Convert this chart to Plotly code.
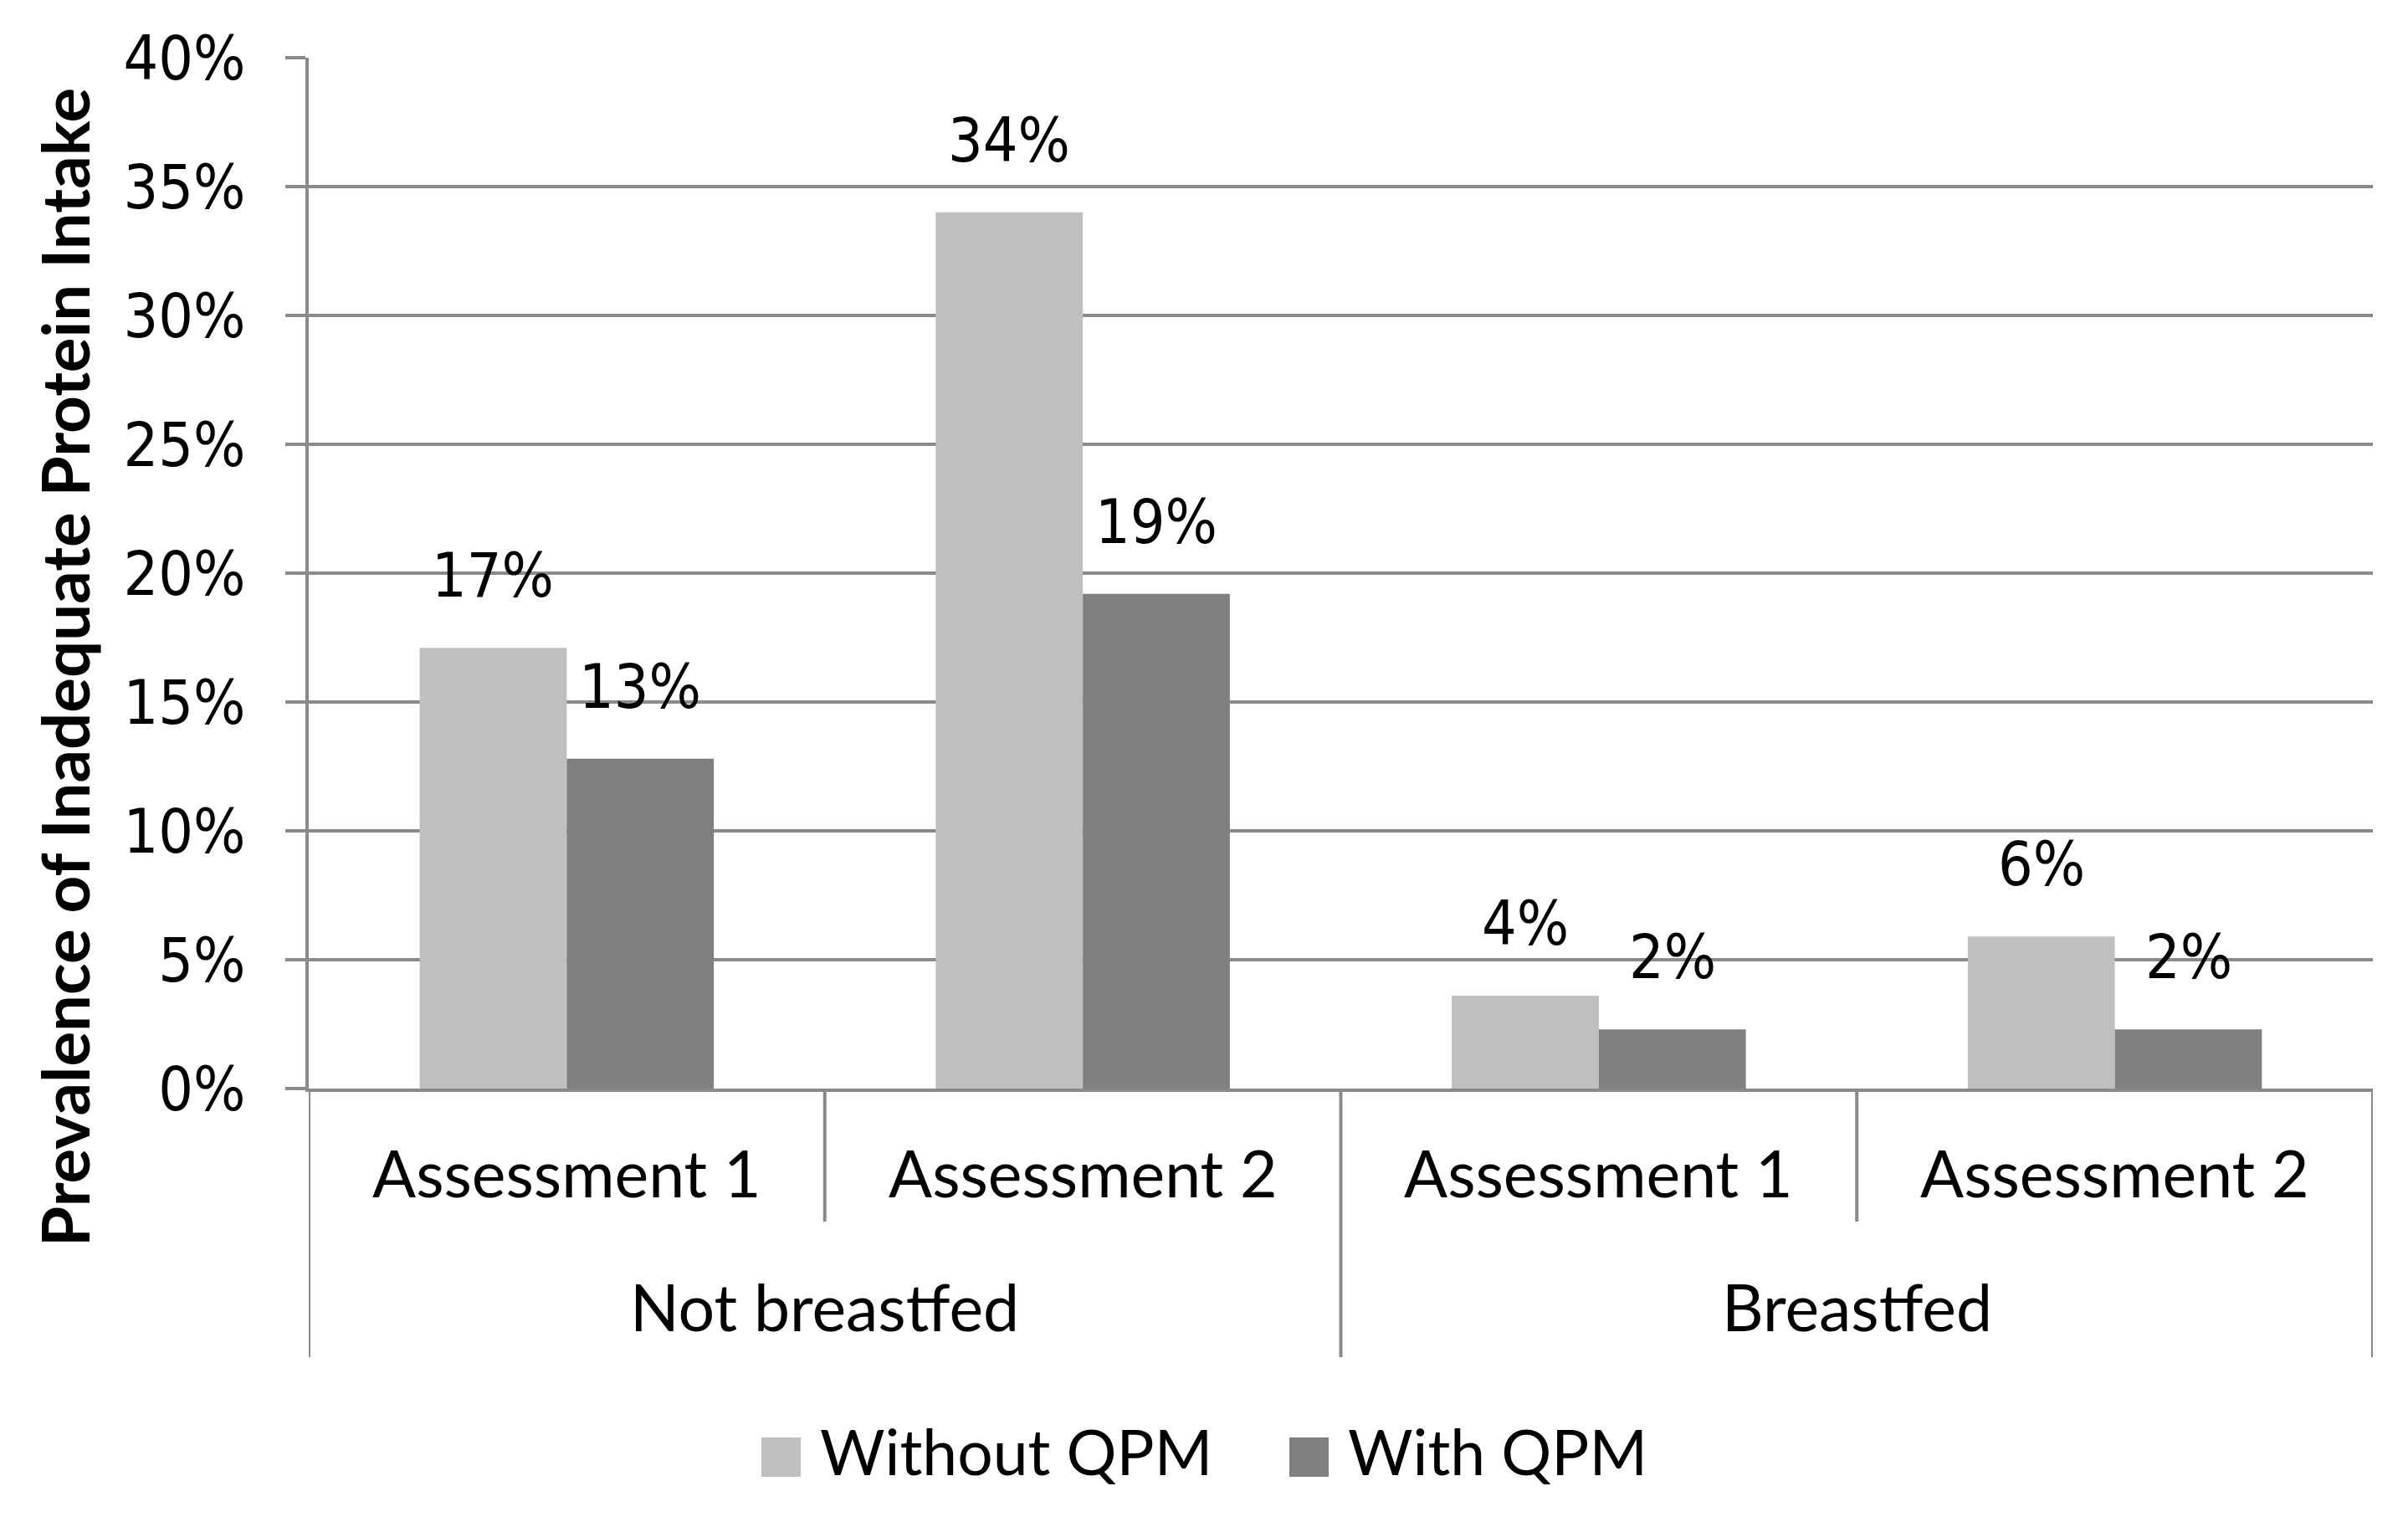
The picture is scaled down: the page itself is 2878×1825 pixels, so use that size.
import plotly.graph_objects as go

# ---------------- data ----------------
groups = ["Not breastfed", "Not breastfed", "Breastfed", "Breastfed"]
assessments = ["Assessment 1", "Assessment 2", "Assessment 1", "Assessment 2"]
outer_groups = ["Not breastfed", "Breastfed"]
series_names = ["Without QPM", "With QPM"]
without_qpm = [17.1, 34.0, 3.6, 5.9]
with_qpm = [12.8, 19.2, 2.3, 2.3]
without_labels = ["17%", "34%", "4%", "6%"]
with_labels = ["13%", "19%", "2%", "2%"]
y_ticks = [0, 5, 10, 15, 20, 25, 30, 35, 40]
y_title = "Prevalence of Inadequate Protein Intake"

# ---------------- style ----------------
W, H = 2878, 1825
ML, MR, MT, MB = 369, 42, 69, 524
PW, PH = W - ML - MR, H - MT - MB
LIGHT, DARK, LINE = "#bfbfbf", "#808080", "#8a8a8a"
LW = 4
SANS = "Lato, Calibri, Carlito, Open Sans, sans-serif"
NUMF = "DejaVu Sans Condensed, Noto Sans, DejaVu Sans, sans-serif"
SANS_SIZE = 77
LEG_SIZE = 75
NUM_SIZE = 73
BARGAP = 0.43

def py(px):
    """pixel y (from top of figure) -> paper y"""
    return (MT + PH - px) / PH

def pxx(px):
    return (px - ML) / PW

xs = list(range(len(assessments)))

fig = go.Figure()
fig.add_trace(go.Bar(x=xs, y=without_qpm, name=series_names[0], marker_color=LIGHT,
                     marker_line_width=0, showlegend=False))
fig.add_trace(go.Bar(x=xs, y=with_qpm, name=series_names[1], marker_color=DARK,
                     marker_line_width=0, showlegend=False))

annotations = []
half = (1 - BARGAP) / 4
for i in xs:
    annotations.append(dict(x=i - half, y=without_qpm[i], xref="x", yref="y",
                            text=without_labels[i], showarrow=False, yanchor="bottom",
                            yshift=42, font=dict(family=NUMF, size=NUM_SIZE, color="black")))
    annotations.append(dict(x=i + half, y=with_qpm[i], xref="x", yref="y",
                            text=with_labels[i], showarrow=False, yanchor="bottom",
                            yshift=42, font=dict(family=NUMF, size=NUM_SIZE, color="black")))
    annotations.append(dict(x=i, y=py(1401), xref="x", yref="paper", text=assessments[i],
                            showarrow=False, yanchor="middle",
                            font=dict(family=SANS, size=SANS_SIZE, color="black")))

for g in outer_groups:
    idx = [i for i, v in enumerate(groups) if v == g]
    annotations.append(dict(x=sum(idx) / len(idx), y=py(1561), xref="x", yref="paper",
                            text=g, showarrow=False, yanchor="middle",
                            font=dict(family=SANS, size=SANS_SIZE, color="black")))

annotations.append(dict(x=pxx(77), y=py(798), xref="paper", yref="paper", text=y_title,
                        textangle=-90, showarrow=False, xanchor="center", yanchor="middle",
                        font=dict(family=SANS, size=78, color="black", weight="bold")))

shapes = []
# category separators
for i in range(len(xs) + 1):
    b = i - 0.5
    if i == 0 or i == len(xs) or groups[i - 1] != groups[i]:
        bottom = py(1622)
    else:
        bottom = py(1460)
    shapes.append(dict(type="line", xref="x", yref="paper", x0=b, x1=b, y0=0, y1=bottom,
                       line=dict(color=LINE, width=LW)))

# manual legend
leg = [(910, 957, 978, LIGHT, series_names[0]), (1541, 1588, 1609, DARK, series_names[1])]
for x0, x1, tx, col, name in leg:
    shapes.append(dict(type="rect", xref="paper", yref="paper", x0=pxx(x0), x1=pxx(x1),
                       y0=py(1765), y1=py(1718), fillcolor=col, line=dict(width=0)))
    annotations.append(dict(x=pxx(tx), y=py(1734), xref="paper", yref="paper", text=name,
                            showarrow=False, xanchor="left", yanchor="middle",
                            font=dict(family=SANS, size=LEG_SIZE, color="black")))

fig.update_layout(
    width=W, height=H,
    margin=dict(l=ML, r=MR, t=MT, b=MB, pad=0),
    paper_bgcolor="white", plot_bgcolor="white",
    barmode="group", bargap=BARGAP, bargroupgap=0,
    annotations=annotations, shapes=shapes,
    showlegend=False,
    xaxis=dict(range=[-0.5, len(xs) - 0.5], showticklabels=False, showgrid=False,
               zeroline=False, showline=True, linecolor=LINE, linewidth=LW, ticks=""),
    yaxis=dict(range=[0, 40], tickvals=y_ticks, ticktext=[f"{v}%" for v in y_ticks],
               showgrid=True, gridcolor=LINE, gridwidth=LW, zeroline=False,
               showline=True, linecolor=LINE, linewidth=LW,
               ticks="outside", ticklen=24, tickwidth=LW, tickcolor=LINE,
               ticklabelstandoff=33,
               tickfont=dict(family=NUMF, size=NUM_SIZE, color="black")),
)

fig.write_html("out.html", config={"displayModeBar": False},
               post_script="document.body.style.margin='0';document.body.style.padding='0';")
